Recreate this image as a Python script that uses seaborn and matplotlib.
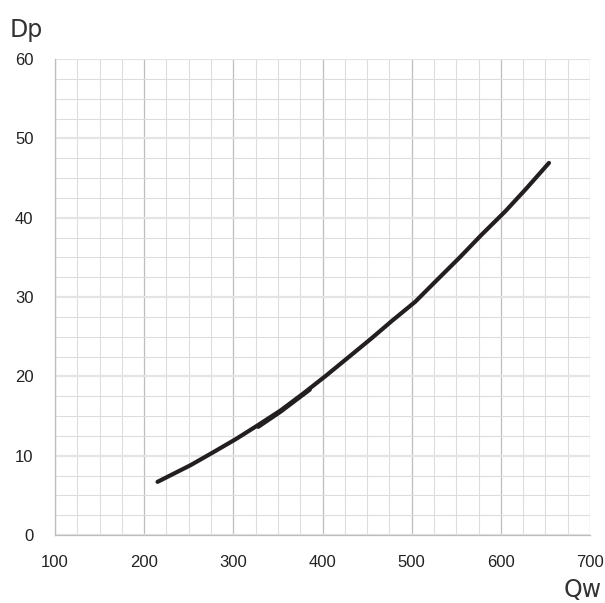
import numpy as np
import pandas as pd
import matplotlib
matplotlib.use("Agg")
import matplotlib.pyplot as plt
import seaborn as sns
from matplotlib.ticker import MultipleLocator

# curve
qw = [215, 252, 277, 303, 327, 353, 378, 403, 428, 454, 478, 504, 528, 554, 578, 605, 628, 654]
dp = [6.7, 8.8, 10.4, 12.1, 13.8, 15.7, 17.8, 20.0, 22.3, 24.7, 27.0, 29.4, 32.1, 35.0, 37.8, 40.8, 43.6, 46.9]
# short overlapping stretch that makes the line look thicker around 330-390
qw_b = [328, 353, 386]
dp_b = [13.6, 15.5, 18.3]

x_ticks = [100, 200, 300, 400, 500, 600, 700]
y_ticks = [0, 10, 20, 30, 40, 50, 60]

sns.set_style("white")
plt.rcParams['font.family'] = ['Liberation Sans', 'DejaVu Sans']

fig = plt.figure(figsize=(6.05, 6.03), dpi=100)
ax = fig.add_axes([55 / 605, 68 / 603, 535 / 605, 476 / 603])

ax.set_xlim(100, 700)
ax.set_ylim(0, 60)
ax.set_xticks(x_ticks)
ax.set_yticks(y_ticks)
ax.xaxis.set_minor_locator(MultipleLocator(25))
ax.yaxis.set_minor_locator(MultipleLocator(2.5))

ax.grid(which='minor', axis='both', color='#dddddd', lw=0.8)
ax.grid(which='major', axis='x', color='#bdbdbd', lw=0.9)
ax.grid(which='major', axis='y', color='#e4e4e4', lw=1.6)
ax.set_axisbelow(True)

df = pd.DataFrame({'Qw': qw, 'Dp': dp})
df_b = pd.DataFrame({'Qw': qw_b, 'Dp': dp_b})
sns.lineplot(data=df, x='Qw', y='Dp', ax=ax, color='#231f20', lw=3.0)
sns.lineplot(data=df_b, x='Qw', y='Dp', ax=ax, color='#231f20', lw=2.6)

for s in ['top', 'right']:
    ax.spines[s].set_visible(False)
for s in ['left', 'bottom']:
    ax.spines[s].set_color('#bdbdbd')
    ax.spines[s].set_linewidth(0.9)

ax.tick_params(axis='both', which='major', length=6.5, width=0.9, color='#bdbdbd',
               labelsize=12, labelcolor='#222222')
ax.tick_params(axis='y', which='major', pad=9)
ax.tick_params(axis='x', which='major', pad=8)
ax.tick_params(which='minor', length=0)

ax.set_xlabel('')
ax.set_ylabel('')
fig.text(10 / 605, 1 - 30 / 603, 'Dp', fontsize=17, color='#333333',
         family=['DejaVu Sans'], va='center', ha='left')
fig.text(602 / 605, 1 - 590 / 603, 'Qw', fontsize=17, color='#333333',
         family=['DejaVu Sans'], va='center', ha='right')

fig.savefig('out.png', dpi=100)
